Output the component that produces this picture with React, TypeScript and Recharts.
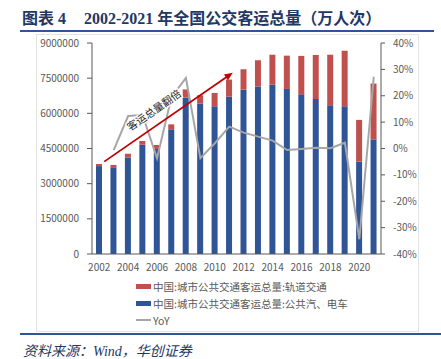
import { ComposedChart, Bar, Line, XAxis, YAxis, ReferenceLine } from 'recharts';

const years = ['2002', '2003', '2004', '2005', '2006', '2007', '2008', '2009', '2010', '2011',
  '2012', '2013', '2014', '2015', '2016', '2017', '2018', '2019', '2020', '2021'];

// 万人次
const bus = [3750000, 3700000, 4120000, 4660000, 4480000, 5320000, 6680000, 6410000, 6300000, 6710000,
  7010000, 7140000, 7220000, 7040000, 6810000, 6610000, 6340000, 6300000, 3940000, 4890000];
const rail = [90000, 100000, 160000, 160000, 170000, 210000, 340000, 360000, 570000, 730000,
  870000, 1120000, 1280000, 1420000, 1640000, 1880000, 2160000, 2370000, 1780000, 2380000];
// %
const yoy = [null, -0.6, 12.3, 12.7, -3.7, 19.5, 26.8, -3.7, 2.0, 8.3,
  6.0, 4.5, 3.0, -0.6, -0.2, 0.3, 0.1, 2.2, -34.4, 27.2];

const leftTicks = [0, 1500000, 3000000, 4500000, 6000000, 7500000, 9000000];
const rightTicks = [-40, -30, -20, -10, 0, 10, 20, 30, 40];

const data = years.map((y, i) => ({ year: y, bus: bus[i], rail: rail[i], yoy: yoy[i] }));

const BLUE = '#2F5597';
const RED = '#C0504D';
const GRAY = '#A6A6A6';
const AXIS = '#595959';
const FONT = '"Noto Sans CJK SC", "Noto Sans", sans-serif';

function ArrowShape(props: any) {
  const { x1, y1, x2, y2 } = props;
  if (x1 == null) return null;
  const sx = x1 + 5;
  const ex = x2 + 3.5;
  const ang = Math.atan2(y2 - y1, ex - sx);
  const deg = (ang * 180) / Math.PI;
  const mx = sx + (ex - sx) * 0.45 - Math.sin(-ang) * 13;
  const my = y1 + (y2 - y1) * 0.45 - Math.cos(-ang) * 13;
  const h = 9;
  const p1x = ex - h * Math.cos(ang - 0.4);
  const p1y = y2 - h * Math.sin(ang - 0.4);
  const p2x = ex - h * Math.cos(ang + 0.4);
  const p2y = y2 - h * Math.sin(ang + 0.4);
  return (
    <g>
      <line x1={sx} y1={y1} x2={ex - 4 * Math.cos(ang)} y2={y2 - 4 * Math.sin(ang)} stroke="#C00000" strokeWidth={1.8} />
      <polygon points={`${ex},${y2} ${p1x},${p1y} ${p2x},${p2y}`} fill="#C00000" />
      <text
        x={mx}
        y={my}
        transform={`rotate(${deg} ${mx} ${my})`}
        textAnchor="middle"
        dominantBaseline="middle"
        fontSize={10.5}
        fontFamily={FONT}
        fill="#262626"
        stroke="#fff"
        strokeWidth={2.5}
        paintOrder="stroke"
      >
        客运总量翻倍
      </text>
    </g>
  );
}

const legendItems = [
  { label: '中国:城市公共交通客运总量:轨道交通', color: RED, type: 'bar' },
  { label: '中国:城市公共交通客运总量:公共汽、电车', color: BLUE, type: 'bar' },
  { label: 'YoY', color: GRAY, type: 'line' },
];

export default function App() {
  return (
    <div style={{ position: 'absolute', left: 0, top: 0, width: 441, height: 359, background: '#fff', fontFamily: FONT }}>
      <div
        style={{
          position: 'absolute',
          left: 22,
          top: 5,
          fontSize: 16,
          fontWeight: 'bold',
          color: '#1F3864',
          whiteSpace: 'nowrap',
          fontFamily: '"Liberation Serif", "Noto Sans CJK SC", serif',
        }}
      >
        图表 4<span style={{ display: 'inline-block', width: 18 }} />2002-2021 年全国公交客运总量（万人次）
      </div>
      <div style={{ position: 'absolute', left: 20, top: 30, width: 414, height: 2, background: '#2F5597' }} />
      <div style={{ position: 'absolute', left: 36, top: 34, width: 381, height: 296, border: '1px solid #E3E3E3' }} />

      <div style={{ position: 'absolute', left: 0, top: 0 }}>
        <ComposedChart width={441} height={290} data={data} margin={{ top: 43, right: 0, left: 0, bottom: 0 }}>
          <XAxis
            dataKey="year"
            interval={1}
            height={36}
            tickLine={false}
            axisLine={{ stroke: AXIS }}
            tick={{ fill: AXIS, fontSize: 10, fontFamily: FONT }}
            tickMargin={4}
          />
          <YAxis
            yAxisId="left"
            width={92}
            domain={[0, 9000000]}
            ticks={leftTicks}
            interval={0}
            axisLine={{ stroke: AXIS }}
            tickLine={{ stroke: AXIS }}
            tickSize={5}
            tickMargin={8}
            tick={{ fill: AXIS, fontSize: 10, fontFamily: FONT }}
          />
          <YAxis
            yAxisId="right"
            orientation="right"
            width={60}
            domain={[-40, 40]}
            ticks={rightTicks}
            interval={0}
            axisLine={{ stroke: AXIS }}
            tickLine={{ stroke: AXIS }}
            tickSize={4}
            tickMargin={8}
            tickFormatter={(v: number) => `${v}%`}
            tick={{ fill: AXIS, fontSize: 10, fontFamily: FONT }}
          />
          <Bar yAxisId="left" dataKey="bus" stackId="a" fill={BLUE} barSize={6} isAnimationActive={false} />
          <Bar yAxisId="left" dataKey="rail" stackId="a" fill={RED} barSize={6} isAnimationActive={false} />
          <Line
            yAxisId="right"
            dataKey="yoy"
            type="linear"
            stroke={GRAY}
            strokeWidth={2}
            dot={false}
            connectNulls
            isAnimationActive={false}
          />
          <ReferenceLine
            yAxisId="left"
            segment={[
              { x: '2002', y: 3940000 },
              { x: '2011', y: 7730000 },
            ]}
            shape={ArrowShape}
            ifOverflow="visible"
          />
        </ComposedChart>
      </div>

      {legendItems.map((it, i) => (
        <div
          key={it.label}
          style={{
            position: 'absolute',
            left: 136,
            top: 279 + i * 17,
            height: 14,
            display: 'flex',
            alignItems: 'center',
            fontSize: 10.5,
            color: AXIS,
            whiteSpace: 'nowrap',
          }}
        >
          <span
            style={{
              display: 'inline-block',
              width: 15,
              height: it.type === 'bar' ? 5 : 2,
              background: it.color,
              marginRight: 2,
            }}
          />
          {it.label}
        </div>
      ))}

      <div style={{ position: 'absolute', left: 20, top: 333, width: 421, height: 2, background: '#2F5597' }} />
      <div
        style={{
          position: 'absolute',
          left: 23,
          top: 340,
          fontSize: 14,
          fontStyle: 'italic',
          color: '#1F3864',
          whiteSpace: 'nowrap',
          fontFamily: '"Liberation Serif", "Noto Sans CJK SC", serif',
        }}
      >
        资料来源：Wind，华创证券
      </div>
    </div>
  );
}
